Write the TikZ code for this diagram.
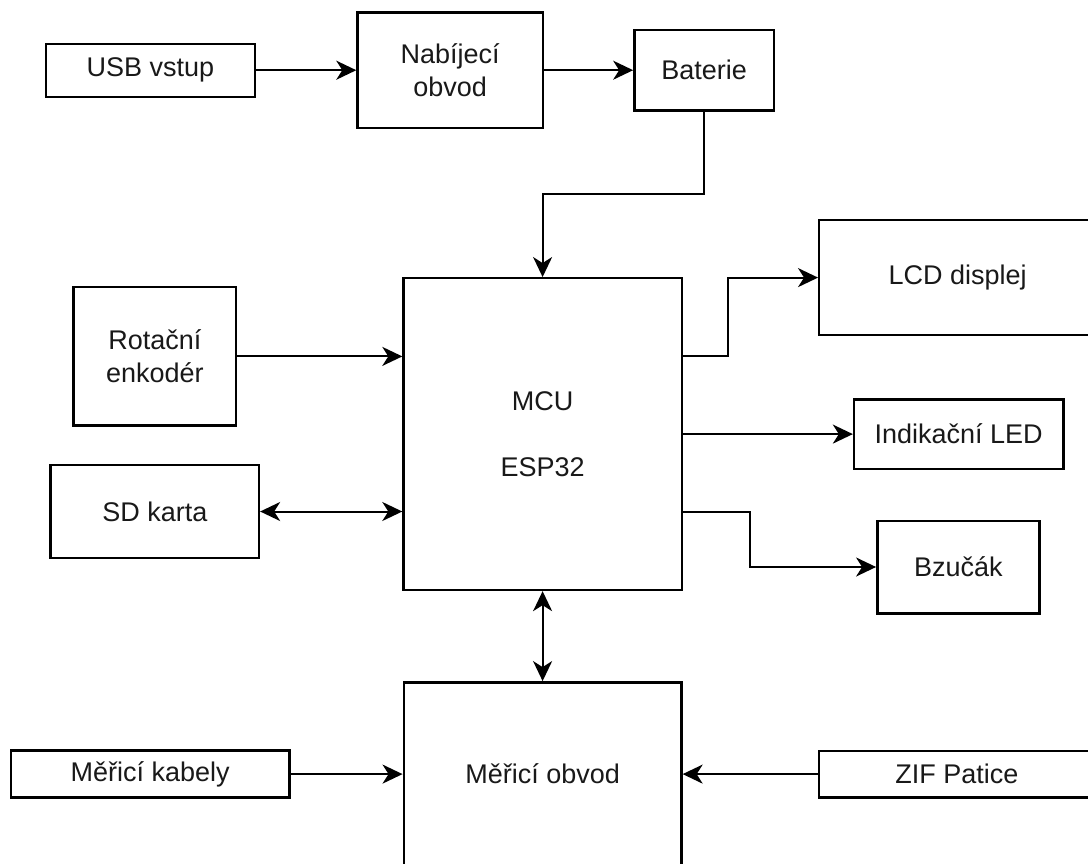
\documentclass[tikz,border=0pt]{standalone}
\usepackage{fontspec}
\setmainfont{Liberation Sans}
\usetikzlibrary{arrows.meta}
\begin{document}
\begin{tikzpicture}[x=1pt,y=-1pt,
  blk/.style={draw, line width=2.4pt, inner sep=0pt, align=center,
    font=\fontsize{27pt}{33.3pt}\selectfont, text=black!90},
  conn/.style={line width=2pt, -{Stealth[length=20pt,width=19pt,inset=6pt]}},
  conn2/.style={line width=2pt, {Stealth[length=20pt,width=19pt,inset=6pt]}-{Stealth[length=20pt,width=19pt,inset=6pt]}}]
\clip (0,0) rectangle (1088,863);
\fill[white] (0,0) rectangle (1088,863);

\node[blk, minimum width=209pt, minimum height=53pt] (usb) at (150.5,70.2) {USB vstup};
\node[blk, minimum width=185.2pt, minimum height=115.7pt] (nab) at (450.1,70.2) {Nabíjecí\\obvod};
\node[blk, minimum width=139.7pt, minimum height=80.7pt] (bat) at (704.2,70.2) {Baterie};
\node[blk, minimum width=276.7pt, minimum height=115.3pt] (lcd) at (957.6,277.6) {LCD displej};
\node[blk, minimum width=162.3pt, minimum height=138.4pt] (rot) at (154.8,356.4) {Rotační\\enkodér};
\node[blk, minimum width=278.2pt, minimum height=311.7pt] (mcu) at (542.6,434.1) {MCU\\[33.3pt]ESP32};
\node[blk, minimum width=209.3pt, minimum height=69.4pt] (led) at (958.7,434.1) {Indikační LED};
\node[blk, minimum width=208.3pt, minimum height=92.7pt] (sd) at (154.8,511.5) {SD karta};
\node[blk, minimum width=162pt, minimum height=92.6pt] (bz) at (958.3,567) {Bzučák};
\node[blk, minimum width=277.7pt, minimum height=183.6pt] (mer) at (542.6,774.1) {Měřicí obvod};
\node[blk, minimum width=278.3pt, minimum height=47pt] (kab) at (150.2,774.1) {Měřicí kabely};
\node[blk, minimum width=275.7pt, minimum height=46.6pt] (zif) at (957,774.1) {ZIF Patice};

\coordinate (bj) at (704.2,194.3);
\coordinate (lj) at (728,356);
\coordinate (zj) at (750,512);

\draw[conn] (usb.east) -- (nab.west);
\draw[conn] (nab.east) -- (bat.west);
\draw[conn] (bat.south) -- (bj) -| (mcu.north);
\draw[conn] (rot.east) -- (mcu.west |- rot.east);
\draw[conn2] (sd.east) -- (mcu.west |- sd.east);
\draw[conn] (mcu.east |- lj) -- (lj) |- (lcd.west);
\draw[conn] (mcu.east |- led.west) -- (led.west);
\draw[conn] (mcu.east |- zj) -- (zj) |- (bz.west);
\draw[conn2] (mcu.south) -- (mer.north);
\draw[conn] (kab.east) -- (mer.west |- kab.east);
\draw[conn] (zif.west) -- (mer.east |- zif.west);
\end{tikzpicture}
\end{document}
